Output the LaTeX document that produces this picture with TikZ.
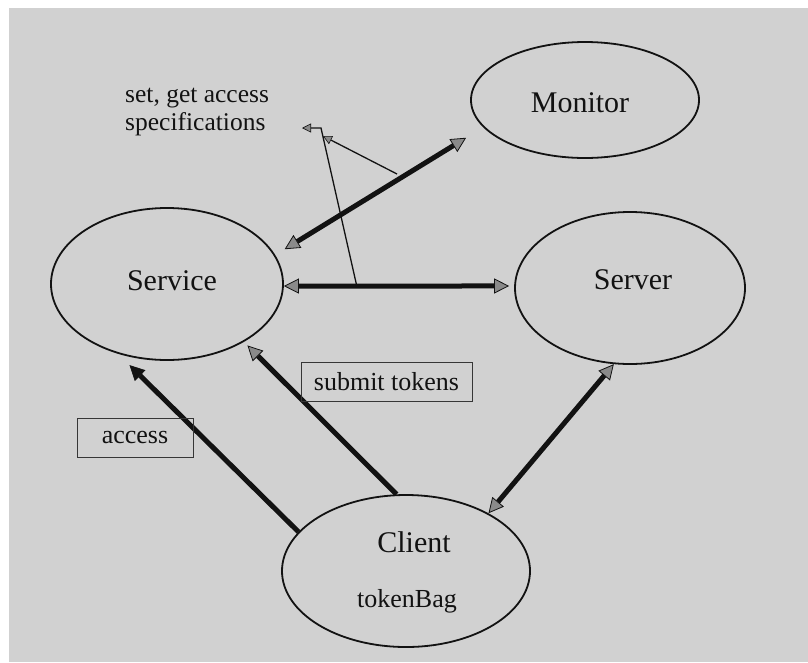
\documentclass[tikz,border=0pt]{standalone}
\usepackage{fontspec}
\setmainfont{Liberation Serif}
\usetikzlibrary{arrows.meta,shapes.geometric}
\definecolor{paper}{RGB}{209,209,209}
\definecolor{ink}{RGB}{18,18,18}
\definecolor{tipgray}{RGB}{138,138,138}
\begin{document}
\begin{tikzpicture}[x=1pt,y=-1pt,
  blob/.style={ellipse, draw=ink, line width=1.8pt, inner sep=0pt},
  bigname/.style={anchor=base, inner sep=0pt, text=ink, font=\fontsize{30}{34}\selectfont},
  smallname/.style={anchor=base, inner sep=0pt, text=ink, font=\fontsize{26}{30}\selectfont},
  notetext/.style={anchor=base west, inner sep=0pt, text=ink, font=\fontsize{25.5}{29}\selectfont},
  tagbox/.style={draw=ink!85, line width=0.9pt, inner sep=0pt, minimum height=39pt,
                 text=ink, font=\fontsize{26}{30}\selectfont},
  heavy/.style={draw=ink, line width=5pt},
  graytip/.tip={Triangle[length=15pt,width=15pt,line width=0.8pt,fill=tipgray]},
  blacktip/.tip={Triangle[length=15pt,width=15pt,line width=0.8pt,fill=ink]},
  smalltip/.tip={Triangle[length=9pt,width=9pt,line width=0.6pt,fill=tipgray]},
  twoway/.style={heavy, graytip-graytip},
  oneway/.style={heavy, -graytip},
  thin/.style={draw=ink, line width=1.3pt, -smalltip}
]
\useasboundingbox (0,0) rectangle (808,662);

% paper
\fill[white] (0,0) rectangle (808,662);
\fill[paper] (9,8) rectangle (808,662);

% components
\node[blob, minimum width=232pt, minimum height=152pt] (service) at (167,284) {};
\node[blob, minimum width=230pt, minimum height=152pt] (server)  at (630,288) {};
\node[blob, minimum width=228pt, minimum height=116pt] (monitor) at (585,100) {};
\node[blob, minimum width=248pt, minimum height=152pt] (client)  at (406,571) {};

\node[bigname] (servicelbl) at (172,290) {Service};
\node[bigname] (serverlbl)  at (633,289) {Server};
\node[bigname] (monitorlbl) at (580,112) {Monitor};
\node[bigname] (clientlbl)  at (414,552) {Client};
\node[smallname] (tokenbag) at (407,607) {tokenBag};

% connections
\draw[twoway, shorten >=5pt] (service.-1.5) -- (server.179.5);
\draw[twoway, shorten <=11pt, shorten >=20pt] (service.15.9) -- (monitor.195.6);
\draw[twoway] (client.35.6) -- (server.258.7);
\draw[heavy, -blacktip, shorten >=16pt] (client.160.1) -- (service.235.2);
\draw[oneway, shorten >=5pt] (client.97.5) -- (service.-37.3);

% labels on the client arrows
\node[tagbox, minimum width=116pt] (accesstag) at (135,437.5) {access};
\node[tagbox, minimum width=171pt] (submittag) at (386.5,381.5) {submit tokens};

% access specification note
\node[notetext] (specs1) at (125,102) {set, get access};
\node[notetext] (specs2) at (125,130) {specifications};
\coordinate (tapA)  at (357,287);
\coordinate (bendA) at (321,128);
\coordinate (tipA)  at (302,128);
\coordinate (tapB)  at (397,174);
\coordinate (tipB)  at (323,136);
\draw[thin] (tapA) -- (bendA) -- (tipA);
\draw[thin] (tapB) -- (tipB);
\end{tikzpicture}
\end{document}
